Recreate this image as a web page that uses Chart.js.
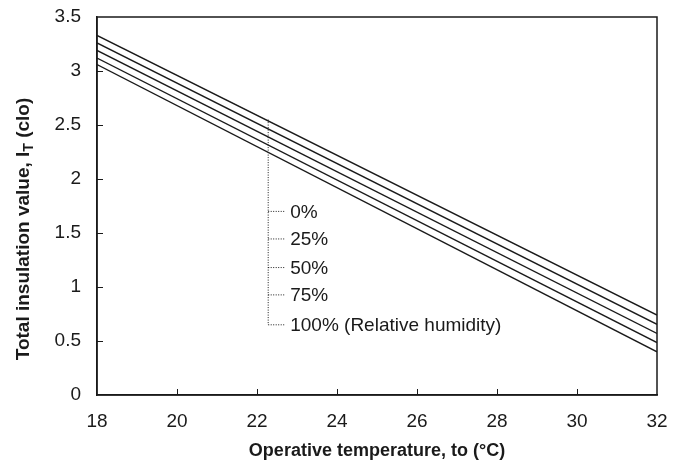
<!DOCTYPE html>
<html>
<head>
<meta charset="utf-8">
<script src="https://cdn.jsdelivr.net/npm/chart.js@4.4.0/dist/chart.umd.min.js"></script>
<style>
  html, body { margin: 0; padding: 0; background: #fff; }
  #wrap { width: 683px; height: 466px; }
</style>
</head>
<body>
<div id="wrap"><canvas id="plot"></canvas></div>
<script>
// temperatures (°C) at the ends of each line
const temps = [18, 32];

// relative humidity series, total insulation (clo)
const humidity = ["0%", "25%", "50%", "75%", "100%"];
const rh0 = [3.33, 0.74];
const rh25 = [3.26, 0.655];
const rh50 = [3.19, 0.57];
const rh75 = [3.12, 0.485];
const rh100 = [3.06, 0.40];

// callout: leader line and label text
const leaderX = 22.28;
const leaderTop = 2.55;
const labelY = [1.70, 1.445, 1.18, 0.927, 0.65];
const labelText = ["0%", "25%", "50%", "75%", "100% (Relative humidity)"];

const xTicks = [18, 20, 22, 24, 26, 28, 30, 32];
const yTicks = [0, 0.5, 1, 1.5, 2, 2.5, 3, 3.5];

const FONT = "'Liberation Sans', Arial, sans-serif";
const INK = "#1a1a1a";

let serie = (vals) => temps.map((t, i) => ({ x: t, y: vals[i] }));

// leader: vertical dotted line plus a short stub for each label
let stubs = [];
labelY.forEach((y) => {
  stubs.push({ x: leaderX, y: y });
  stubs.push({ x: leaderX + 0.43, y: y });
  stubs.push({ x: leaderX + 0.43, y: null });
});

let lineSet = (label, vals) => ({
  label: label,
  data: serie(vals),
  borderColor: INK,
  borderWidth: 1.4,
  pointRadius: 0,
  fill: false,
});

let dotted = (data) => ({
  data: data,
  borderColor: INK,
  borderWidth: 1,
  borderDash: [1, 1.5],
  pointRadius: 0,
  fill: false,
  spanGaps: false,
});

// inward ticks, box frame, callout text and y title with subscript
const extras = {
  id: "extras",
  afterDraw(chart) {
    const ctx = chart.ctx;
    const a = chart.chartArea;
    const sx = chart.scales.x;
    const sy = chart.scales.y;
    ctx.save();
    ctx.strokeStyle = INK;
    ctx.lineWidth = 1;
    ctx.beginPath();
    xTicks.slice(1, -1).forEach((t) => {
      const px = Math.round(sx.getPixelForValue(t)) + 0.5;
      ctx.moveTo(px, a.bottom);
      ctx.lineTo(px, a.bottom - 6);
    });
    yTicks.slice(1, -1).forEach((t) => {
      const py = Math.round(sy.getPixelForValue(t)) + 0.5;
      ctx.moveTo(a.left, py);
      ctx.lineTo(a.left + 6, py);
    });
    ctx.stroke();
    ctx.lineWidth = 1.5;
    ctx.strokeRect(a.left, a.top, a.right - a.left, a.bottom - a.top);

    ctx.fillStyle = INK;
    ctx.font = "19px " + FONT;
    ctx.textBaseline = "middle";
    ctx.textAlign = "left";
    labelText.forEach((txt, i) => {
      ctx.fillText(txt, sx.getPixelForValue(leaderX + 0.55), sy.getPixelForValue(labelY[i]) + 1);
    });

    // y title
    const partA = "Total insulation value, I";
    const partB = "T";
    const partC = " (clo)";
    const bold = "bold 19px " + FONT;
    const small = "bold 14px " + FONT;
    ctx.font = bold;
    const wA = ctx.measureText(partA).width;
    const wC = ctx.measureText(partC).width;
    ctx.font = small;
    const wB = ctx.measureText(partB).width;
    const total = wA + wB + wC;
    ctx.translate(24, 229);
    ctx.rotate(-Math.PI / 2);
    ctx.textAlign = "left";
    ctx.textBaseline = "middle";
    let x0 = -total / 2;
    ctx.font = bold;
    ctx.fillText(partA, x0, 0);
    ctx.font = small;
    ctx.fillText(partB, x0 + wA, 5);
    ctx.font = bold;
    ctx.fillText(partC, x0 + wA + wB, 0);
    ctx.restore();
  },
};

let config = {
  type: "line",
  data: {
    datasets: [
      lineSet(humidity[0], rh0),
      lineSet(humidity[1], rh25),
      lineSet(humidity[2], rh50),
      lineSet(humidity[3], rh75),
      lineSet(humidity[4], rh100),
      dotted([{ x: leaderX, y: leaderTop }, { x: leaderX, y: labelY[labelY.length - 1] }]),
      dotted(stubs),
    ],
  },
  options: {
    responsive: true,
    maintainAspectRatio: false,
    animation: false,
    events: [],
    layout: { padding: { top: 17, right: 26, left: 0, bottom: 0 } },
    plugins: { legend: { display: false }, tooltip: { enabled: false } },
    scales: {
      x: {
        type: "linear",
        min: 18,
        max: 32,
        afterFit: (s) => { s.height = 71; },
        afterBuildTicks: (s) => { s.ticks = xTicks.map((v) => ({ value: v })); },
        grid: { display: false, drawTicks: false },
        border: { display: true, color: INK, width: 1.5 },
        ticks: { color: INK, font: { family: FONT, size: 19 }, padding: 15, maxRotation: 0 },
        title: {
          display: true,
          text: "Operative temperature, to (°C)",
          color: INK,
          font: { family: FONT, size: 18, weight: "bold" },
          padding: { top: 0, bottom: 4 },
        },
      },
      y: {
        type: "linear",
        min: 0,
        max: 3.5,
        afterFit: (s) => { s.width = 97; },
        afterBuildTicks: (s) => { s.ticks = yTicks.map((v) => ({ value: v })); },
        grid: { display: false, drawTicks: true, tickLength: 12 },
        border: { display: true, color: INK, width: 1.5 },
        ticks: {
          color: INK,
          font: { family: FONT, size: 19 },
          padding: 4,
          callback: (v) => String(v),
        },
      },
    },
  },
  plugins: [extras],
};

let chart1 = new Chart(document.getElementById("plot"), config);
</script>
</body>
</html>
